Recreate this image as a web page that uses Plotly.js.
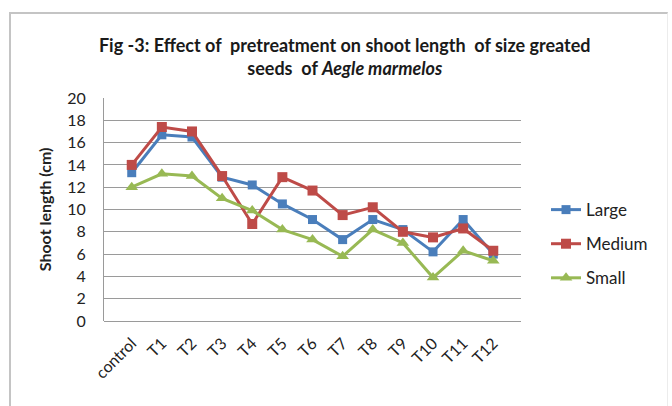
<!DOCTYPE html>
<html>
<head>
<meta charset="utf-8">
<script src="https://cdn.plot.ly/plotly-3.0.1.min.js"></script>
<style>
  html, body { margin: 0; padding: 0; background: #fff; }
  #wrap { position: relative; width: 672px; height: 406px; overflow: hidden; }
  #chart { position: absolute; left: 0; top: 0; width: 672px; height: 406px; }
  #frame { position: absolute; left: 9px; top: 12px; width: 659px; height: 420px;
           border-left: 2px solid #c4c4c4; border-top: 2px solid #c4c4c4; border-right: 1px solid #ececec;
           box-sizing: border-box; pointer-events: none; }
</style>
</head>
<body>
<div id="wrap">
  <div id="chart"></div>
  <div id="frame"></div>
</div>
<script>
const categories = ["control", "T1", "T2", "T3", "T4", "T5", "T6", "T7", "T8", "T9", "T10", "T11", "T12"];
const large  = [13.3, 16.7, 16.5, 12.9, 12.2, 10.5, 9.1, 7.3, 9.1, 8.2, 6.2, 9.1, 6.0];
const medium = [14.0, 17.4, 17.0, 13.0, 8.7, 12.9, 11.7, 9.5, 10.2, 8.0, 7.5, 8.3, 6.3];
const small  = [12.0, 13.2, 13.0, 11.0, 9.9, 8.2, 7.3, 5.8, 8.2, 7.0, 3.9, 6.3, 5.4];
const seriesNames = ["Large", "Medium", "Small"];
const yTicks = [0, 2, 4, 6, 8, 10, 12, 14, 16, 18, 20];
const yTitle = "Shoot length (cm)";

const font = "Lato, 'Open Sans', sans-serif";
const colors = ["#4A7EBB", "#BE4B48", "#98B954"];
const symbols = ["square", "square", "triangle-up"];
const sizes = [9, 10, 11];
const vals = [large, medium, small];

const traces = vals.map((v, i) => ({
  type: "scatter",
  mode: "lines+markers",
  x: categories,
  y: v,
  name: seriesNames[i],
  legendgroup: "g" + i,
  line: { color: colors[i], width: 3 },
  marker: { color: colors[i], symbol: symbols[i], size: sizes[i] }
}));

const layout = {
  width: 672,
  height: 406,
  paper_bgcolor: "#ffffff",
  plot_bgcolor: "#ffffff",
  margin: { l: 104, r: 151, t: 98, b: 85 },
  font: { family: font, color: "#222" },
  title: {
    text: "<b>Fig -3: Effect of  pretreatment on shoot length  of size greated<br>seeds  of <i>Aegle marmelos</i></b>",
    font: { family: font, size: 18, color: "#1a1a1a" },
    x: 0.513, xref: "container", xanchor: "center",
    y: 0.872, yref: "container", yanchor: "middle"
  },
  xaxis: {
    type: "category",
    tickangle: -45,
    tickfont: { family: font, size: 16, color: "#222" },
    showgrid: false,
    showline: false,
    ticks: "",
    zeroline: false,
    ticklabelstandoff: 9
  },
  yaxis: {
    range: [0, 20],
    tickvals: yTicks,
    ticktext: yTicks.map(String),
    tickfont: { family: font, size: 16, color: "#222" },
    showgrid: true,
    gridcolor: "#9a9a9a",
    gridwidth: 1,
    showline: true,
    linecolor: "#9a9a9a",
    linewidth: 1,
    zeroline: true,
    zerolinecolor: "#9a9a9a",
    zerolinewidth: 1,
    ticks: "",
    ticklabelstandoff: 14
  },
  annotations: [{
    text: "<b>" + yTitle + "</b>",
    xref: "paper", yref: "paper",
    x: -0.142, y: 0.5,
    xanchor: "center", yanchor: "middle",
    textangle: -90,
    showarrow: false,
    font: { family: font, size: 16, color: "#222" }
  }],
  legend: {
    x: 1.06, xanchor: "left",
    y: 0.345, yanchor: "middle",
    font: { family: font, size: 17, color: "#222" },
    tracegroupgap: 9,
    bgcolor: "rgba(0,0,0,0)"
  },
  showlegend: true
};

Plotly.newPlot("chart", traces, layout, { displayModeBar: false, staticPlot: true });
</script>
</body>
</html>
